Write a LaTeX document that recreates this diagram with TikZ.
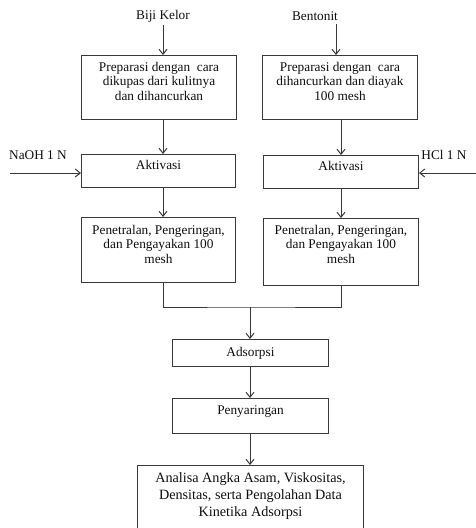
\documentclass[tikz,border=0pt]{standalone}
\usepackage{fontspec}
\setmainfont{Liberation Serif}
\usetikzlibrary{arrows.meta,calc}
\definecolor{ln}{HTML}{383838}
\definecolor{tx}{HTML}{0D0D0D}
\begin{document}
\begin{tikzpicture}[x=1pt,y=-1pt,
  box/.style={draw=ln, line width=1pt, inner sep=0pt, anchor=north west},
  lbl/.style={text=tx, font=\fontsize{13.3}{14.5}\selectfont, align=center, inner sep=0pt},
  flow/.style={draw=ln, line width=1pt, -{Straight Barb[length=5pt,width=8pt]}},
  joinline/.style={draw=ln, line width=1pt}]
\useasboundingbox (0,0) rectangle (476,528);
\clip (0,0) rectangle (476,528);
% sources
\node[lbl, inner sep=3pt] (bk) at (163,16) {Biji Kelor};
\node[lbl, inner sep=3pt] (bt) at (315,16) {Bentonit};
% boxes
\node[box, minimum width=155pt, minimum height=64pt] (p1) at (81,55) {};
\node[box, minimum width=155pt, minimum height=64pt] (p2) at (262,55) {};
\node[box, minimum width=154pt, minimum height=33pt] (a1) at (81,154) {};
\node[box, minimum width=155pt, minimum height=33pt] (a2) at (263,155) {};
\node[box, minimum width=154pt, minimum height=65pt] (n1) at (81,217) {};
\node[box, minimum width=155pt, minimum height=67pt] (n2) at (263,218) {};
\node[box, minimum width=156pt, minimum height=27pt] (ad) at (172,339) {};
\node[box, minimum width=156pt, minimum height=35pt] (py) at (172,398) {};
\node[box, minimum width=226pt, minimum height=90pt] (fa) at (137,465) {};
% texts
\node[lbl, anchor=north] (p1t) at ([yshift=-7pt]p1.north) {Preparasi dengan~ cara\\dikupas dari kulitnya\\dan dihancurkan};
\node[lbl, anchor=north] (p2t) at ([yshift=-7pt]p2.north) {Preparasi dengan~ cara\\dihancurkan dan diayak\\100 mesh};
\node[lbl, anchor=north] (a1t) at ([yshift=-6.5pt]a1.north) {Aktivasi};
\node[lbl, anchor=north] (a2t) at ([yshift=-6.5pt]a2.north) {Aktivasi};
\node[lbl, anchor=north] (n1t) at ([yshift=-8pt]n1.north) {Penetralan, Pengeringan,\\dan Pengayakan 100\\mesh};
\node[lbl, anchor=north] (n2t) at ([yshift=-7pt]n2.north) {Penetralan, Pengeringan,\\dan Pengayakan 100\\mesh};
\node[lbl] (adt) at (ad.center) {Adsorpsi};
\node[lbl, anchor=north] (pyt) at ([yshift=-7pt]py.north) {Penyaringan};
\node[lbl, anchor=north, font=\fontsize{14.2}{17}\selectfont] (fat) at ([yshift=-7pt]fa.north) {Analisa Angka Asam, Viskositas,\\Densitas, serta Pengolahan Data\\Kinetika Adsorpsi};
\node[lbl] (naoh) at (38,155) {NaOH 1 N};
\node[lbl] (hcl) at (444,155) {HCl 1 N};
% connectors
\coordinate (btx) at ([xshift=21pt]bt.south);
\draw[flow] (bk.south) -- (bk.south |- p1.north);
\draw[flow] (btx) -- (btx |- p2.north);
\draw[flow] (p1.south -| bk) -- (a1.north -| bk);
\draw[flow] (p2.south -| a2.north) -- (a2.north);
\draw[flow] (a1.south -| bk) -- (n1.north -| bk);
\draw[flow] (a2.south) -- (a2.south |- n2.north);
\coordinate (nin) at (10,173);
\coordinate (hin) at (476,173);
\draw[flow] (nin) -- (nin -| a1.west);
\draw[flow] (hin) -- (hin -| a2.east);
\coordinate (jn) at (250,307);
\draw[joinline] (n1.south -| bk) |- (jn) -| (n2.south -| a2.north);
\draw[flow] (jn) -- (jn |- ad.north);
\draw[flow] (ad.south -| jn) -- (jn |- py.north);
\draw[flow] (py.south -| jn) -- (jn |- fa.north);
\end{tikzpicture}
\end{document}
